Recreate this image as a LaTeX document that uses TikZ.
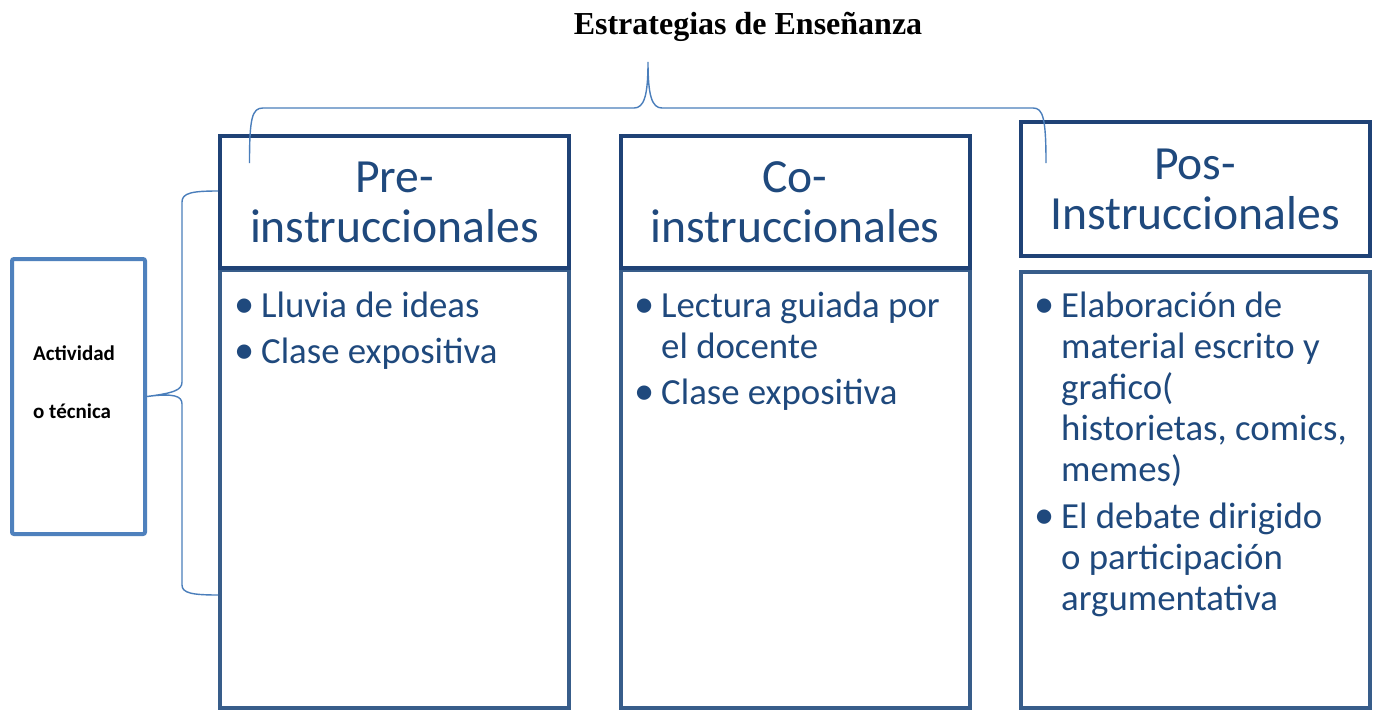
\documentclass[tikz,border=0pt]{standalone}
\usepackage{fontspec}
\setmainfont{Carlito}
\newfontfamily\titlefont{Liberation Serif}
\definecolor{hdrline}{HTML}{1F4276}
\definecolor{bodyline}{HTML}{385D8A}
\definecolor{actline}{HTML}{4F81BD}
\definecolor{txtblue}{HTML}{1F497D}
\definecolor{braceblue}{HTML}{4A7EBB}
\newcommand\bul{\llap{\scalebox{1.1}{•}\hspace{7pt}}}
\tikzset{
  hdrbox/.style={draw=hdrline, line width=4pt, fill=white, inner sep=0pt,
    minimum width=349pt, align=center, text=txtblue,
    font=\fontsize{47.6}{50}\selectfont},
  bodybox/.style={draw=bodyline, line width=4pt, inner sep=0pt, minimum width=349pt},
  bodytext/.style={anchor=base west, inner sep=0pt, text=txtblue,
    font=\fontsize{36.8}{41}\selectfont},
  actbox/.style={draw=actline, line width=4pt, rounded corners=2pt, inner sep=0pt,
    minimum width=133pt, minimum height=275pt},
  bracestyle/.style={draw=braceblue, line width=1.4pt}
}
\begin{document}
\begin{tikzpicture}[x=1pt,y=-1pt]
\useasboundingbox[fill=white] (0,0) rectangle (1373,712);

% title
\node[anchor=base, inner sep=0pt, font=\titlefont\bfseries\fontsize{32}{36}\selectfont] (title) at (748,34) {Estrategias de Enseñanza};

% body boxes
\node[bodybox, minimum height=438pt] (preB) at (394.5,489) {};
\node[bodybox, minimum height=438pt] (coB) at (795,489) {};
\node[bodybox, minimum height=436pt] (posB) at (1195,490) {};

% header boxes
\node[hdrbox, minimum height=132pt] (preH) at (394.5,202) {Pre-\\instruccionales};
\node[hdrbox, minimum height=132pt] (coH) at (795,202) {Co-\\instruccionales};
\node[hdrbox, minimum height=134pt] (posH) at (1195,189) {Pos-\\Instruccionales};

% body texts
\node[bodytext] (preT) at (261,317) {\begin{tabular}[t]{@{}l@{}}\bul Lluvia de ideas\\[5pt]\bul Clase expositiva\end{tabular}};
\node[bodytext] (coT) at (661,317) {\begin{tabular}[t]{@{}l@{}}\bul Lectura guiada por\\el docente\\[5pt]\bul Clase expositiva\end{tabular}};
\node[bodytext] (posT) at (1061,317) {\begin{tabular}[t]{@{}l@{}}\bul Elaboración de\\material escrito y\\grafico(\\historietas, comics,\\memes)\\[6pt]\bul El debate dirigido\\o participación\\argumentativa\end{tabular}};

% Actividad box
\node[actbox] (act) at (78.5,396.5) {};
\node[anchor=base west, inner sep=0pt, align=left, font=\bfseries\fontsize{21}{58}\selectfont] (actT) at (33,418) {Actividad\\o técnica};

% top brace
\coordinate (tbL) at (249.5,163);
\coordinate (tbTip) at (648,62);
\coordinate (tbR) at (1046,163);
\draw[bracestyle] (tbL) .. controls (249.5,118) and (252,108) .. (263,108) -- (634,108)
  .. controls (644,108) and (648,96) .. (tbTip)
  .. controls (648,96) and (652,108) .. (662,108) -- (1033,108)
  .. controls (1043,108) and (1046,118) .. (tbR);

% left brace
\coordinate (lbT) at (218,191);
\coordinate (lbB) at (218,595);
\draw[bracestyle] (lbT) .. controls (192,191) and (182,193) .. (182,202) -- (182,382)
  .. controls (182,390) and (174,393) .. (act.east)
  .. controls (174,393) and (182,396) .. (182,404) -- (182,585)
  .. controls (182,593) and (192,595) .. (lbB);
\end{tikzpicture}
\end{document}
